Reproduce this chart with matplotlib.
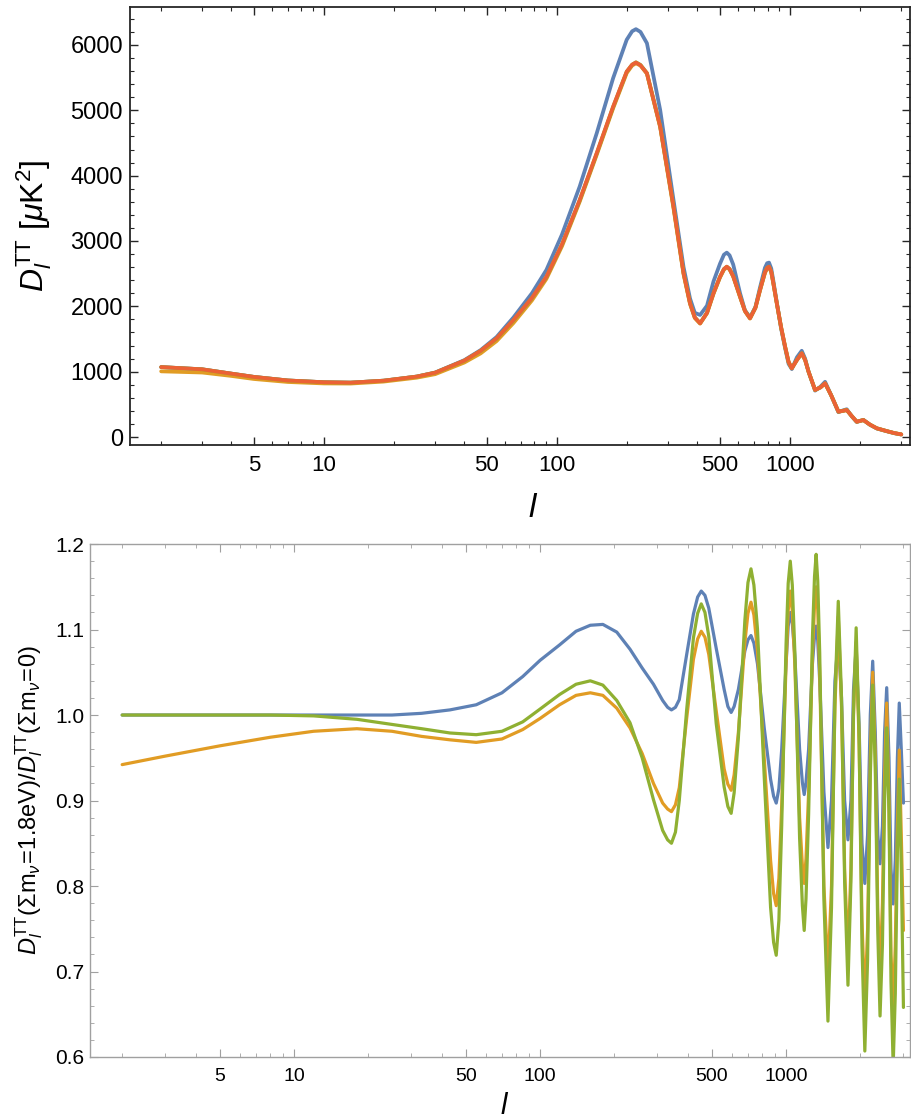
import matplotlib
matplotlib.use("Agg")
import matplotlib.pyplot as plt
from matplotlib.ticker import FixedLocator, MultipleLocator, FuncFormatter, NullFormatter

plt.rcParams['font.family'] = ['Liberation Sans', 'DejaVu Sans']
plt.rcParams['mathtext.fontset'] = 'custom'
plt.rcParams['mathtext.rm'] = 'Liberation Sans'
plt.rcParams['mathtext.it'] = 'Liberation Sans:italic'
plt.rcParams['mathtext.bf'] = 'Liberation Sans:bold'

# colours (Mathematica default palette)
BLUE = '#5E81B5'
ORANGE = '#E19C24'
GREEN = '#8FB032'
RED = '#EB6235'

# ---- top panel: D_l^TT [muK^2] ----
ell_tt = [2, 3, 4, 5, 7, 10, 13, 18, 25, 30, 40, 47, 55, 65, 78, 90, 105, 125, 148, 174,
          199, 210, 218, 228, 243, 277, 316, 349, 372, 390, 411, 440, 469, 500, 520, 535,
          550, 570, 610, 640, 673, 710, 743, 780, 797, 812, 830, 845, 877, 915, 952, 985,
          1017, 1070, 1122, 1160, 1200, 1280, 1350, 1413, 1500, 1612, 1680, 1750, 1840,
          1932, 2063, 2200, 2356, 2600, 2800, 3000]

dl_blue = [1070, 1036, 970, 920, 865, 838, 832, 862, 925, 987, 1176, 1330, 1530, 1830, 2200,
           2557, 3100, 3832, 4650, 5492, 6080, 6210, 6242, 6200, 6027, 5006, 3628, 2600, 2120,
           1900, 1868, 2010, 2380, 2650, 2790, 2822, 2780, 2640, 2200, 1940, 1830, 1990, 2290,
           2590, 2660, 2669, 2580, 2420, 2060, 1660, 1360, 1120, 1040, 1220, 1320, 1200, 1000,
           710, 770, 845, 640, 380, 405, 425, 315, 230, 262, 188, 130, 88, 58, 38]

dl_orange = [1005, 987, 935, 888, 842, 820, 818, 848, 908, 962, 1140, 1280, 1468, 1745, 2090,
             2420, 2920, 3600, 4320, 5030, 5570, 5685, 5720, 5685, 5560, 4740, 3500, 2490, 2035,
             1820, 1735, 1895, 2190, 2440, 2560, 2598, 2565, 2455, 2140, 1925, 1812, 1975, 2245,
             2510, 2585, 2600, 2525, 2375, 2040, 1675, 1378, 1148, 1050, 1178, 1278, 1178, 1000,
             720, 758, 820, 640, 388, 398, 411, 320, 234, 258, 190, 133, 90, 60, 40]

dl_green = [1070, 1036, 970, 920, 865, 838, 832, 862, 925, 985, 1168, 1318, 1505, 1785, 2125,
            2448, 2945, 3620, 4340, 5050, 5590, 5698, 5735, 5695, 5570, 4755, 3530, 2510, 2050,
            1832, 1742, 1902, 2200, 2450, 2570, 2607, 2572, 2462, 2150, 1932, 1818, 1982, 2252,
            2520, 2590, 2607, 2530, 2380, 2047, 1680, 1383, 1150, 1052, 1180, 1282, 1180, 1000,
            720, 760, 822, 640, 388, 400, 413, 320, 234, 260, 190, 133, 90, 60, 40]

dl_red = [1070, 1036, 970, 920, 865, 838, 832, 862, 925, 985, 1170, 1320, 1510, 1791, 2130,
          2454, 2950, 3628, 4348, 5057, 5593, 5700, 5731, 5690, 5567, 4751, 3526, 2506, 2047,
          1830, 1740, 1900, 2200, 2450, 2570, 2607, 2570, 2460, 2148, 1930, 1817, 1980, 2251,
          2520, 2590, 2607, 2530, 2380, 2047, 1680, 1383, 1150, 1052, 1180, 1282, 1180, 1000,
          720, 760, 822, 640, 388, 400, 413, 320, 234, 260, 190, 133, 90, 60, 40]

# ---- bottom panel: ratio D_l(sum m_nu = 1.8 eV) / D_l(sum m_nu = 0) ----
ell_ratio = [2, 3, 5, 8, 12, 18, 25, 33, 43, 55, 70, 85, 100, 120, 140, 160, 180, 205, 232,
             260, 289,
             315, 330, 342, 355, 368, 394, 420, 437, 452, 468, 485, 520, 560, 580, 598, 615,
             640, 680, 700, 720, 740, 765, 815, 865, 890, 912, 935, 960, 1000, 1020, 1040,
             1060, 1085, 1135, 1165, 1185, 1205, 1235, 1280, 1305, 1325, 1345, 1370,
             1425, 1480, 1530, 1580, 1630, 1680, 1730, 1785, 1835, 1880, 1927, 1980, 2035,
             2090, 2145, 2200, 2250, 2305, 2360, 2410, 2465, 2515, 2565, 2620, 2670, 2725,
             2780, 2835, 2885, 2940, 3000]

ratio_blue = [1.0, 1.0, 1.0, 1.0, 1.0, 1.0, 1.0, 1.002, 1.006, 1.012, 1.026, 1.045, 1.064,
              1.082, 1.098, 1.105, 1.106, 1.097, 1.077, 1.055, 1.036,
              1.017, 1.009, 1.006, 1.009, 1.018, 1.070, 1.118, 1.138, 1.145, 1.140, 1.125,
              1.078, 1.030, 1.010, 1.003, 1.010, 1.030, 1.075, 1.088, 1.093, 1.084, 1.060,
              0.985, 0.925, 0.905, 0.897, 0.914, 0.960, 1.060, 1.104, 1.120, 1.107, 1.070,
              0.960, 0.921, 0.907, 0.921, 0.960, 1.060, 1.092, 1.104, 1.087, 1.040,
              0.910, 0.845, 0.900, 1.040, 1.090, 1.020, 0.900, 0.854, 0.900, 1.030, 1.080,
              0.990, 0.850, 0.803, 0.860, 1.000, 1.063, 0.980, 0.860, 0.826, 0.870, 0.980,
              1.032, 0.950, 0.820, 0.779, 0.830, 0.950, 1.014, 0.960, 0.897]

ratio_orange = [0.942, 0.952, 0.964, 0.974, 0.981, 0.984, 0.981, 0.975, 0.971, 0.968, 0.972,
                0.983, 0.996, 1.012, 1.023, 1.026, 1.023, 1.008, 0.985, 0.955, 0.920,
                0.897, 0.890, 0.887, 0.895, 0.915, 0.995, 1.065, 1.089, 1.098, 1.091, 1.071,
                1.005, 0.937, 0.919, 0.912, 0.930, 0.980, 1.085, 1.119, 1.132, 1.117, 1.075,
                0.950, 0.830, 0.791, 0.777, 0.809, 0.895, 1.060, 1.122, 1.145, 1.122, 1.060,
                0.880, 0.824, 0.803, 0.832, 0.910, 1.070, 1.128, 1.150, 1.123, 1.050,
                0.800, 0.700, 0.800, 1.010, 1.115, 1.010, 0.820, 0.720, 0.820, 1.000, 1.085,
                0.970, 0.760, 0.660, 0.750, 0.950, 1.050, 0.950, 0.770, 0.700, 0.780, 0.930,
                1.014, 0.900, 0.720, 0.660, 0.730, 0.870, 0.959, 0.860, 0.748]

ratio_green = [1.0, 1.0, 1.0, 1.0, 0.999, 0.995, 0.989, 0.984, 0.979, 0.977, 0.981, 0.992,
               1.007, 1.024, 1.036, 1.040, 1.035, 1.017, 0.991, 0.950, 0.901,
               0.865, 0.854, 0.850, 0.863, 0.900, 1.005, 1.090, 1.119, 1.130, 1.120, 1.092,
               0.990, 0.916, 0.893, 0.885, 0.909, 0.974, 1.111, 1.155, 1.171, 1.152, 1.101,
               0.928, 0.775, 0.734, 0.719, 0.760, 0.871, 1.083, 1.154, 1.180, 1.152, 1.076,
               0.856, 0.777, 0.748, 0.785, 0.884, 1.091, 1.162, 1.188, 1.157, 1.073,
               0.784, 0.642, 0.775, 1.020, 1.133, 1.021, 0.805, 0.684, 0.805, 1.006, 1.102,
               0.978, 0.731, 0.607, 0.714, 0.928, 1.035, 0.938, 0.745, 0.648, 0.732, 0.900,
               0.985, 0.886, 0.689, 0.590, 0.674, 0.841, 0.925, 0.820, 0.658]

log_major = [5, 10, 50, 100, 500, 1000]
log_minor = [2, 3, 4, 6, 7, 8, 9, 20, 30, 40, 60, 70, 80, 90, 200, 300, 400,
             600, 700, 800, 900, 2000, 3000]


def style_log_x(ax):
    ax.set_xscale('log')
    ax.xaxis.set_major_locator(FixedLocator(log_major))
    ax.xaxis.set_minor_locator(FixedLocator(log_minor))
    ax.xaxis.set_major_formatter(FuncFormatter(lambda v, p: '%d' % round(v)))
    ax.xaxis.set_minor_formatter(NullFormatter())


fig = plt.figure(figsize=(9.11, 11.2), dpi=100)

# top panel
ax1 = fig.add_axes([0.1427, 0.6027, 0.8562, 0.3911])
for vals, col in [(dl_blue, BLUE), (dl_orange, ORANGE), (dl_green, GREEN), (dl_red, RED)]:
    ax1.plot(ell_tt, vals, color=col, lw=2.7, solid_capstyle='round', solid_joinstyle='round')
style_log_x(ax1)
ax1.set_xlim(1.47, 3270)
ax1.set_ylim(-122, 6582)
ax1.yaxis.set_major_locator(MultipleLocator(1000))
ax1.yaxis.set_minor_locator(MultipleLocator(200))
for sp in ax1.spines.values():
    sp.set_color('#262626')
    sp.set_linewidth(1.3)
ax1.tick_params(which='both', direction='in', top=True, right=True, color='#262626')
ax1.tick_params(which='major', length=6, width=1.0)
ax1.tick_params(which='minor', length=3, width=0.8)
ax1.tick_params(axis='y', labelsize=17, pad=5)
ax1.tick_params(axis='x', labelsize=16, pad=7)
ax1.set_ylabel(r'$D_l^{\mathrm{TT}}\ [\mu\mathrm{K}^2]$', fontsize=23)
ax1.yaxis.set_label_coords(-0.097, 0.5)
ax1.set_xlabel(r'$l$', fontsize=24)
ax1.xaxis.set_label_coords(0.517, -0.11)

# bottom panel
ax2 = fig.add_axes([0.0988, 0.05625, 0.9001, 0.4580])
for vals, col in [(ratio_blue, BLUE), (ratio_orange, ORANGE), (ratio_green, GREEN)]:
    ax2.plot(ell_ratio, vals, color=col, lw=2.3, solid_capstyle='round', solid_joinstyle='round')
style_log_x(ax2)
ax2.set_xlim(1.48, 3190)
ax2.set_ylim(0.6, 1.2)
ax2.yaxis.set_major_locator(MultipleLocator(0.1))
ax2.yaxis.set_minor_locator(MultipleLocator(0.02))
ax2.yaxis.set_major_formatter(FuncFormatter(lambda v, p: '%.1f' % v))
for sp in ax2.spines.values():
    sp.set_color('#a0a0a0')
    sp.set_linewidth(1.0)
ax2.tick_params(which='both', direction='in', top=True, right=True, color='#a0a0a0')
ax2.tick_params(which='major', length=6, width=0.8)
ax2.tick_params(which='minor', length=3, width=0.6)
ax2.tick_params(axis='y', labelsize=15, pad=4)
ax2.tick_params(axis='x', labelsize=14, pad=8)
ax2.set_ylabel(r'$D_l^{\mathrm{TT}}(\Sigma\mathrm{m}_\nu\!=\!1.8\mathrm{eV})/D_l^{\mathrm{TT}}(\Sigma\mathrm{m}_\nu\!=\!0)$',
               fontsize=17)
ax2.yaxis.set_label_coords(-0.055, 0.5)
ax2.set_xlabel(r'$l$', fontsize=21)
ax2.xaxis.set_label_coords(0.506, -0.068)

fig.savefig('out.png', dpi=100, facecolor='white')
